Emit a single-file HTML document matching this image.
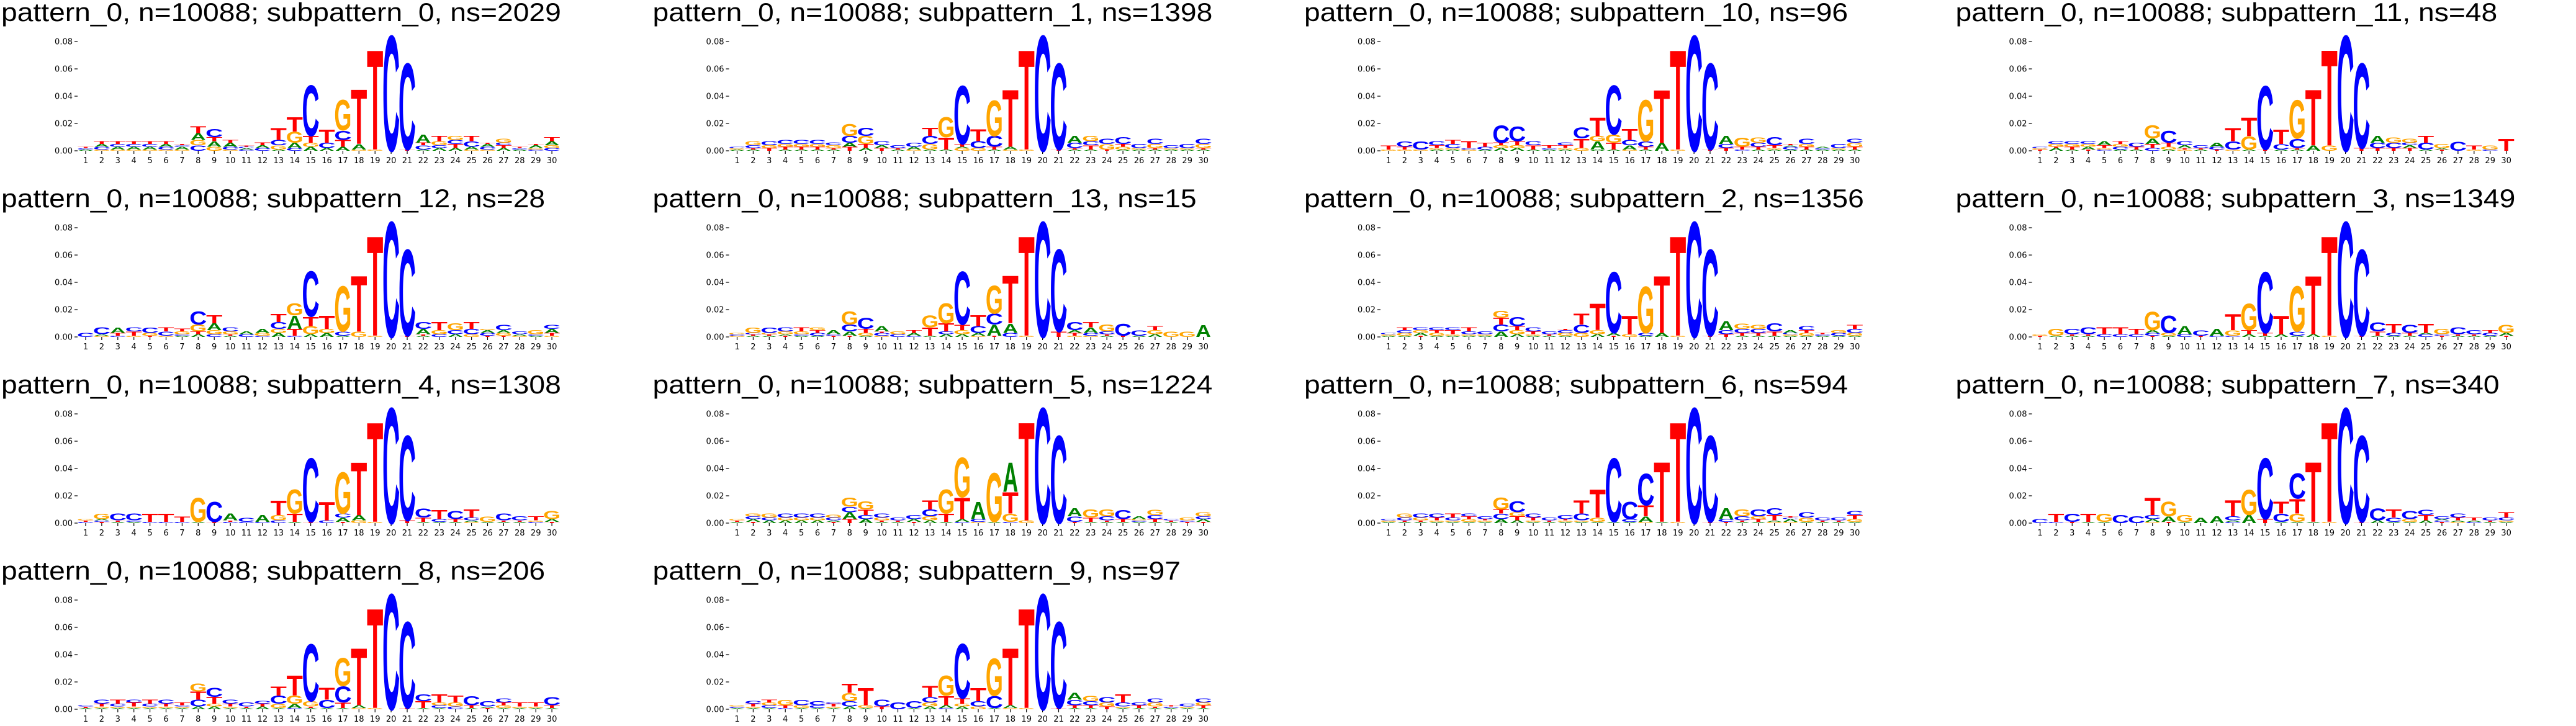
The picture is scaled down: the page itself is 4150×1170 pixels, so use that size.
<!DOCTYPE html>
<html><head><meta charset="utf-8"><style>
html,body{margin:0;padding:0;background:#fff;}
svg{display:block}
</style></head><body>
<svg id="s" xmlns="http://www.w3.org/2000/svg" width="4150" height="1170" viewBox="0 0 4150 1170"></svg>
<script>
var NS="http://www.w3.org/2000/svg";
var S=document.getElementById("s");
var panels=[
["0","2029",["a1c1t1","g1c2a2t2","g1a2c2t2","g1a2c2t2","g1a2c2t2","g1c2a2t2","g1a2c1t1","c4g4a5t5","g3a4t3c6","g1c2a3t2","c1a1c1t1","c2a2t2","a1g3c4t9","c2a4g8t11","a3g3t5c38","a2c4t10","a3t5c7g23","g1a4t41",0,0,0,"a1c3t2a6","a2c2g3t4","a2t3c3g3","g1a2c4t4","g1c2a2t1","a2t2c2g3","a1c1t1","c1g1a2t1","c2g2a3t3"]],
["1","1398",["a1g1c1","a1t1c2g3","t2g2c3","a1t2g2c3","a1t2g2c3","a1t2g2c3","a1t1g2c2","t3a3c5g9","a2t3g6c6","t2a2c3","a1t1c2","g1a2c3","a1g4c6t6","a1t9g15","g2a1t2c44","g2c5t9","a1t2c8g27","g1a2t43",0,0,0,"a1t1c4a5","a1t3c3g4","t1g4c4","a1g2t2c5","a1g1c3","a1t1g3c4","a1g1c2","a1g1c3","a1t1g3c4"]],
["10","96",["g1t3","g1t2c4","g1c6","a1g1t2c3","a1g1c3t3","g1c1t5","a1c2t3","a2g2t2c13","a2g2t3c11","a1t3c3","a1c1t2","a1g1t2c2","g2t7c8","a1a6g4t14","a1t5g6c37","g1a3c4t8","a1t2c4g31","a6t40",0,0,0,"t2c3a6","c1t2g7","a1t2c3g4","a1g1t2c6","a1c2a1t1","a1t2g2c4","a1c1a1","a1g1c3","a1t2g3c3"]],
["11","48",["t1g1c1","a2t1g2c2","a1t2g2c2","t1a2g2c2","c1g1t2a3","a1c2g2t2","a1t2c3","c2t3a4g10","a1g2t3c9","g1t1a2c3","a1t1c2","t1c2a3","g1c6t10","a1g10t14","t1c48","a1c4t11","a1t1c7g29","a4t42","g4t72",0,"t2c64","t2c4a5","t2c4g4","t2a2c2g3","a1c5t5","t1a1g3","c7","g1t3","c1g3","t9"]],
["12","28",["c3","g1a1c5","c1t2a4","g1t3c3","t1g2c4","g1c3t3","a1c1g2t2","a2t2g5c10","c2g3a5t6","a1t1g2c3","c2a2","c1g2a3","a3g3c5t6","c1t5a10g9","a2g6t7c34","a3g3t10","a1c3g34","g4t42",0,0,0,"a1t1a4c5","c2g3t6","a2c3g5","g2c4t5","t1c2a2g1","t1g2a2c4","g1a1c2","a1c1g3","g1t2a3c3"]],
["13","15",["g1c1g1","a1t1c1g4","a1t1g1c4","t1a1g2c3","a1c1g2t3","a1c2t2g2","t1c1a3","t1a3c5g10","a1g2t3c8","g1c2t1a4","c2g2","c1a2t2","a1t6g9","a2c2t6g15","a2g3t4c40","g1a2c5t8","t1a8c8g21","c3a7t36",0,0,"t4c62","g1t2a2c6","g1c2a4t4","a1t1c2g5","t1c9","a1c4","a2g3t3","g4","g4","a9"]],
["2","1356",["a1g1c1","a1g2c2t2","t1a2g2c2","a1g2t2c2","a1g1t3c2","a1g1c2t3","a1g1c2","a4c5t5g5","a2g3t3c7","a1g1t2c3","a1t1c2","a1g2c2t1","g3c6t8","a2g3t20","t1a2c46","g2t14","a1c2g35","a3t43",0,0,0,"t2c3a7","a1t2c3g4","a1t2c3g3","a1t3c6","a1g1c1a2","a1g2t2c3","a1c1t1","a1c2g2","a1g2c3t3"]],
["3","1349",["t1g1","a1g5","a1t1c4","a1t1c5","c2t5","c2t5","c2t4","t1c2a2g14","a1g2c13","c2a6","t1c4","c1a5","c1g4t12","a2t3g20","a1t2c46","a2t14","a1c3g34","a2t44",0,0,0,"a1t3c7","a1c2t7","a1t2c6","c2a1t7","t1c1g4","a1t1c5","a1t1c3","a1c2t2","t1a2g6"]],
["4","1308",["c1t1g1","t1c1a1g4","a1t1c5","a1c1c5","c1t6","c1t6","c1t4","a1g18","t1c15","c1t1a5","c1c3","c1a5","c2g4t11","a1t6g18","t1c48","c2t14","t1a3c3g31","g2a4t40","g1t75",0,"t2c64","a1t3c7","a1c2t7","a1t2c6","g1a1c2t6","a1g4","a1t1c5","a1t1c3","c1g1t3","t1a2g6"]],
["5","1224",["a1t1g1","t1a2c2g2","a2c2g3","a2g2c3","a2g2c3","a2g2c3","t1a1c2g2","t3a5c4g7","a3c3t4g6","a1t1g2c3","a1t1c2","t1a2c3","a2g3c5t7","a1t6g18","c1a2t16g30","g1c2a13","a1g37","c1g6t16a22","g2t74",0,"c66","t1c4a6","a1t3g6","a1t1c3g5","a1t2c7","a1c1g1a2","a1t2c3g4","a1t1c1","t1c1g2","t1a2c2g3"]],
["6","594",["a1g1c1","a1t1c2g3","a1t1g2c3","a1g1t2c3","a1g1c2t3","a1g2t2c2","a1g1t1c2","a3c4t3g9","a2t3g3c8","a1g1t2c3","a1t1c2","a1g1t1c3","a1g1c5t10","a1g3t21","a1c48","a1c2c13","g1a4t8c24","a1t45",0,0,0,"t1c2a8","a1t1c3g5","a1t2g2c5","g1a1t4c5","g1a2c1t1","a1g3c4","a1t1c2","a1t1c2","a1g2t3c3"]],
["7","340",["c3","c1t6","t1c6","a1t6","a1g6","c6","c5","g1a2c3t13","t1a4g11","a1g5","a4","a5","c1a1c3t12","a6g19","t3c46","a1c6t9","a1g6t11c19","a1t45",0,0,0,"a2c9","a1c3t6","a1g2c6","a2t4c4","t1c1a1c2","g1a1t2c3","c1a1t2","a1t1c2","a1g1c2t4"]],
["8","206",["a1t1c1","a1g1t2c3","a1g1c2t3","a1g1t3c2","a1g1c2t3","a1g1t2c3","a1g1c1t2","a2c5t6g6","a2g2t5c7","a1g1t2c3","a1t1c3","a2t2c2","a1g3c6t7","c1a3g6t15","a1t1g4c43","a1c6t9","a1t4c12g21","g1a2t43",0,0,0,"a1t5c5","a1c2g2t6","c2g3t5","a1t2c7","t1a1c4","a1g2t2c3","a1g1t3","a1g1t3","a1t2c6"]],
["9","97",["a1c1g1","a1g1t2c2","a1c2g2t2","c1t2g4","a1g2c4","a1c2c3","a1g1t2c1","a2c4g6t7","a1g2t13","t2c5","c5","a1c5","a2g3c4t8","c1a2t7g15","a2g2t4c41","g2c4t10","a1c9g28","g1a2t43",0,0,0,"a1t2c4a5","a1t2c3g4","t2g3c4","a1g1c3t6","a1t2c2","a1t1g3c3","a1c1t1","a1g1c2","a1t2g2c3"]]
];
var DEF={18:"g1t75",19:"c87",20:"t1c65"};
var COL={a:"#008000",c:"#0000ff",g:"#ffa500",t:"#ff0000"};
var INK={a:71.6,c:63,g:68,t:57};
function el(n,a,t){var e=document.createElementNS(NS,n);for(var k in a)e.setAttribute(k,a[k]);if(t!=null)e.textContent=t;S.appendChild(e);return e;}
var PX=2.2;
panels.forEach(function(p,i){
  var ox=(i%4)*1049.5, oy=Math.floor(i/4)*300;
  var title="pattern_0, n=10088; subpattern_"+p[0]+", ns="+p[1];
  var t=el("text",{x:ox+2,y:oy+34,"font-family":"Liberation Sans, sans-serif","font-size":"42",fill:"#000"},title);
  var w=t.getComputedTextLength();
  t.setAttribute("textLength",(w*1.216*38/42).toFixed(1));
  t.setAttribute("lengthAdjust","spacingAndGlyphs");
  var y0=oy+243;
  [0,2,4,6,8].forEach(function(v){
    var y=y0-v*10*PX;
    el("line",{x1:ox+120,x2:ox+125,y1:y,y2:y,stroke:"#000","stroke-width":"1.2"});
    el("text",{x:ox+117,y:y+4.5,"text-anchor":"end","font-family":"DejaVu Sans, sans-serif","font-size":"13",fill:"#000"},"0.0"+v);
  });
  for(var k=0;k<30;k++){
    var cx=ox+138+k*25.9;
    el("line",{x1:cx,x2:cx,y1:y0,y2:y0+5,stroke:"#000","stroke-width":"1.2"});
    el("text",{x:cx,y:oy+263,"text-anchor":"middle","font-family":"DejaVu Sans, sans-serif","font-size":"13",fill:"#000"},String(k+1));
    var s=p[2][k]||DEF[k];
    if(!s)continue;
    var re=/([acgt])(\d+)/g,m,yb=y0;
    while((m=re.exec(s))){
      var L=m[1],h=parseInt(m[2])*PX;
      var sx=24.5/INK[L], sy=h/71.6;
      el("text",{x:0,y:0,"text-anchor":"middle","font-family":"Liberation Sans, sans-serif","font-weight":"bold","font-size":"100",fill:COL[L],transform:"translate("+cx.toFixed(2)+","+yb.toFixed(2)+") scale("+sx.toFixed(4)+","+sy.toFixed(4)+")"},L.toUpperCase());
      yb-=h;
    }
  }
});
</script>
</body></html>
